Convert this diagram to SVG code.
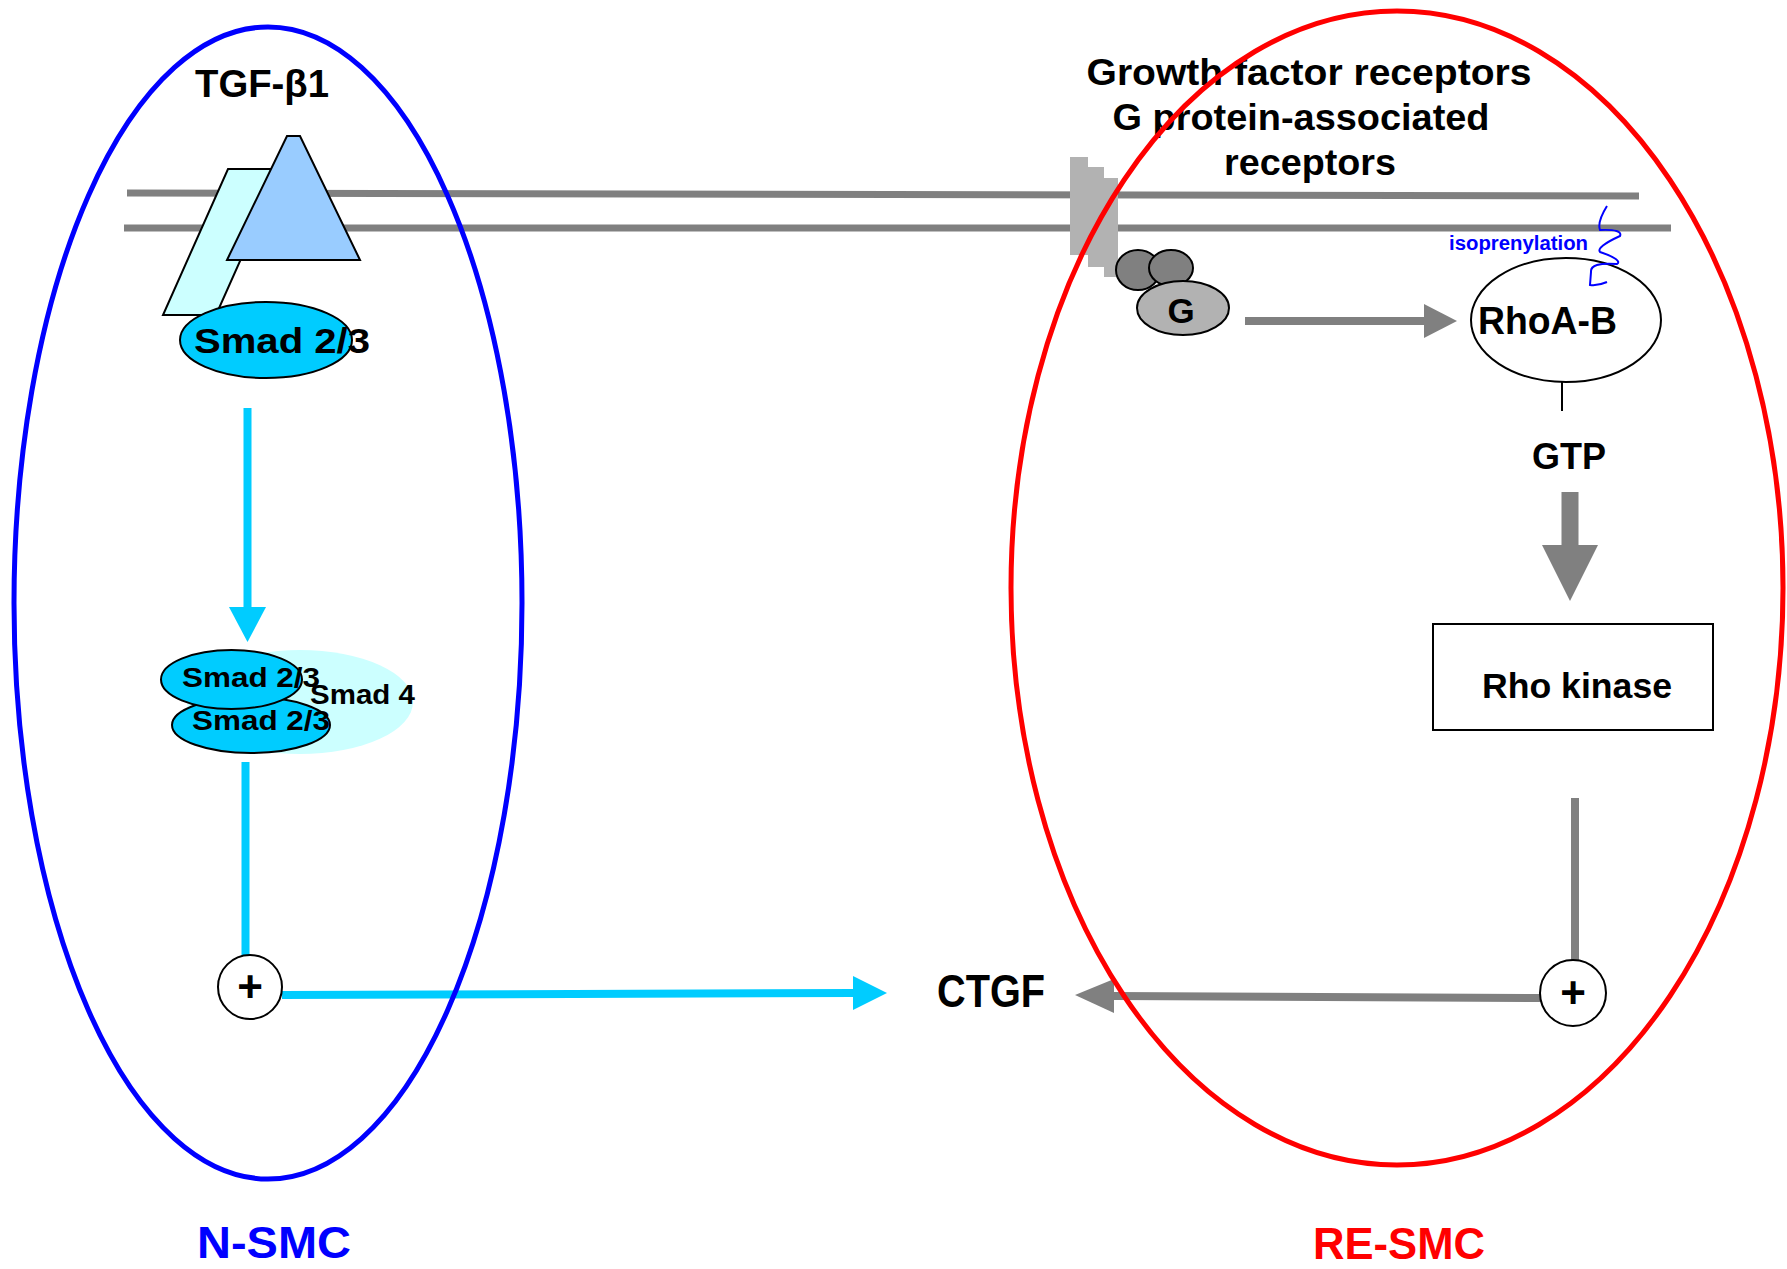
<svg xmlns="http://www.w3.org/2000/svg" width="1787" height="1269" viewBox="0 0 1787 1269">
<style>
text{font-family:"Liberation Sans","DejaVu Sans",sans-serif;font-weight:bold;fill:#000}
.ol{stroke:#000;stroke-width:2}
.mem{stroke:#808080;stroke-width:7;fill:none}
.cy{stroke:#00CCFF;stroke-width:8;fill:none}
.gr{stroke:#808080;stroke-width:8;fill:none}
</style>
<rect width="1787" height="1269" fill="#fff"/>
<g id="membrane">
<line class="mem" x1="127" y1="193" x2="1639" y2="196"/>
<line class="mem" x1="124" y1="228" x2="1671" y2="228"/>
</g>
<g id="tgf-receptor">
<polygon points="228,169 281,169 216,315 163,315" fill="#CCFFFF" class="ol"/>
<polygon points="287,136 300,136 360,260 227,260" fill="#99CCFF" class="ol"/>
<text x="195" y="97" font-size="38" textLength="134" lengthAdjust="spacingAndGlyphs">TGF-β1</text>
</g>
<g id="smad23-top">
<ellipse cx="266" cy="340" rx="86" ry="38" fill="#00CCFF" class="ol"/>
<text x="194" y="353" font-size="35" textLength="176" lengthAdjust="spacingAndGlyphs">Smad 2/3</text>
</g>
<g id="smad-complex">
<ellipse cx="300" cy="702" rx="113" ry="52" fill="#CCFFFF"/>
<ellipse cx="251" cy="725" rx="79" ry="28" fill="#00CCFF" class="ol"/>
<text x="192" y="730" font-size="27" textLength="138" lengthAdjust="spacingAndGlyphs">Smad 2/3</text>
<ellipse cx="231.5" cy="679.5" rx="70.5" ry="29.5" fill="#00CCFF" class="ol"/>
<text x="182" y="687" font-size="27" textLength="138" lengthAdjust="spacingAndGlyphs">Smad 2/3</text>
<text x="310" y="704" font-size="27" textLength="105" lengthAdjust="spacingAndGlyphs">Smad 4</text>
</g>
<g id="gf-receptor">
<polygon points="1070,157 1088,157 1088,167 1104,167 1104,178 1118,178 1118,277 1104,277 1104,267 1088,267 1088,255 1070,255" fill="#B2B2B2"/>
<text x="1309" y="85" font-size="37" text-anchor="middle" textLength="445" lengthAdjust="spacingAndGlyphs">Growth factor receptors</text>
<text x="1301" y="130" font-size="37" text-anchor="middle" textLength="377" lengthAdjust="spacingAndGlyphs">G protein-associated</text>
<text x="1310" y="175" font-size="37" text-anchor="middle" textLength="172" lengthAdjust="spacingAndGlyphs">receptors</text>
</g>
<g id="g-protein">
<ellipse cx="1138" cy="270" rx="22" ry="20" fill="#808080" class="ol"/>
<ellipse cx="1171" cy="268" rx="22" ry="18" fill="#808080" class="ol"/>
<ellipse cx="1183" cy="308" rx="46" ry="27" fill="#B2B2B2" class="ol"/>
<text x="1181" y="323" font-size="35" text-anchor="middle">G</text>
</g>
<g id="rhoab">
<ellipse cx="1566" cy="320" rx="95" ry="62" fill="#fff" class="ol"/>
<text x="1478" y="334" font-size="39" textLength="139" lengthAdjust="spacingAndGlyphs">RhoA-B</text>
<text x="1449" y="250" font-size="20" style="fill:#0000FF" textLength="139" lengthAdjust="spacingAndGlyphs">isoprenylation</text>
<path d="M1607,206 Q1597,222 1600,230 Q1623,229 1620,236 Q1596,247 1600,252 Q1623,260 1617,264 Q1590,262 1591,272 L1590,285 Q1598,286 1607,282" fill="none" stroke="#0000FF" stroke-width="2"/>
</g>
<g id="gtp">
<text x="1569" y="469" font-size="37" text-anchor="middle" textLength="74" lengthAdjust="spacingAndGlyphs">GTP</text>
</g>
<g id="rho-kinase">
<rect x="1433" y="624" width="280" height="106" fill="#fff" class="ol"/>
<text x="1577" y="698" font-size="35" text-anchor="middle" textLength="190" lengthAdjust="spacingAndGlyphs">Rho kinase</text>
</g>
<g id="ctgf">
<text x="937" y="1007" font-size="46" textLength="108" lengthAdjust="spacingAndGlyphs">CTGF</text>
</g>
<g id="connectors">
<line class="cy" x1="247.5" y1="408" x2="247.5" y2="608"/>
<polygon points="229,607 266,607 247.5,642" fill="#00CCFF"/>
<line class="cy" x1="245.5" y1="762" x2="245.5" y2="956"/>
<line class="cy" x1="282" y1="995" x2="854" y2="993"/>
<polygon points="853,976 853,1010 887,993" fill="#00CCFF"/>
<line class="gr" x1="1245" y1="321" x2="1425" y2="321"/>
<polygon points="1424,304 1424,338 1457,321" fill="#808080"/>
<line x1="1562" y1="381" x2="1562" y2="411" stroke="#000" stroke-width="2"/>
<line x1="1570" y1="492" x2="1570" y2="547" stroke="#808080" stroke-width="17"/>
<polygon points="1542,545 1598,545 1570,601" fill="#808080"/>
<line class="gr" x1="1575" y1="798" x2="1575" y2="961"/>
<line class="gr" x1="1540" y1="998" x2="1113" y2="996"/>
<polygon points="1114,979 1114,1013 1075,995" fill="#808080"/>
</g>
<g id="plus-left">
<circle cx="250" cy="987" r="32" fill="#fff" class="ol"/>
<text x="250" y="1002" font-size="44" text-anchor="middle">+</text>
</g>
<g id="plus-right">
<circle cx="1573" cy="993" r="33" fill="#fff" class="ol"/>
<text x="1573" y="1008" font-size="44" text-anchor="middle">+</text>
</g>
<g id="cells">
<ellipse cx="268" cy="603" rx="254" ry="576" fill="none" stroke="#0000FF" stroke-width="5"/>
<ellipse cx="1397" cy="588" rx="386" ry="577" fill="none" stroke="#FF0000" stroke-width="5"/>
<text x="197" y="1258" font-size="45" style="fill:#0000FF" textLength="154" lengthAdjust="spacingAndGlyphs">N-SMC</text>
<text x="1313" y="1259" font-size="45" style="fill:#FF0000" textLength="172" lengthAdjust="spacingAndGlyphs">RE-SMC</text>
</g>
</svg>
